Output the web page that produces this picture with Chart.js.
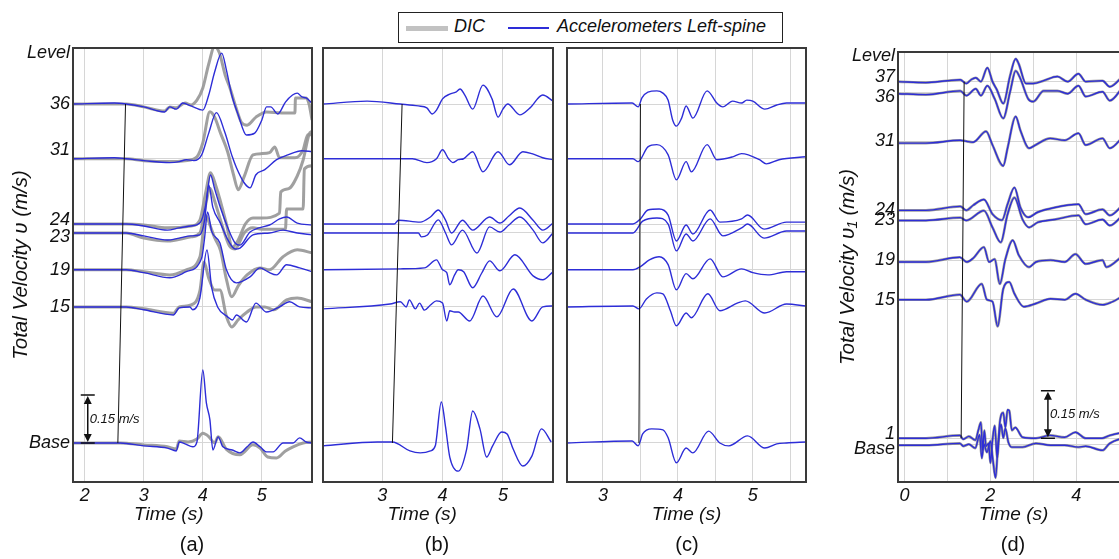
<!DOCTYPE html>
<html>
<head>
<meta charset="utf-8">
<script src="https://cdn.jsdelivr.net/npm/chart.js@4.4.1/dist/chart.umd.min.js"></script>
<style>
  body { margin: 0; width: 1119px; height: 559px; overflow: hidden; background: #fff; position: relative;
         font-family: "Liberation Sans", Arial, sans-serif; }
  canvas { position: absolute; top: 40px; }
  .tag { position: absolute; top: 533px; font-size: 20px; transform: translateX(-50%); color: #111; }
  #legend { position: absolute; left: 398px; top: 12px; width: 383px; height: 29px; border: 1.5px solid #222; background: #fff; }
  #legend span { position: absolute; }
  #legend .txt { top: 3px; font-size: 18px; font-style: italic; color: #111; }
</style>
</head>
<body>
<div id="legend">
  <span style="left:7px;top:13px;width:42px;height:5px;background:#c2c2c2"></span>
  <span class="txt" style="left:55px">DIC</span>
  <span style="left:109px;top:14px;width:41px;height:2px;background:rgb(45,45,215)"></span>
  <span class="txt" style="left:158px">Accelerometers Left-spine</span>
</div>
<canvas id="chartA" width="318" height="519" style="left:0px"></canvas>
<canvas id="chartB" width="245" height="519" style="left:318px"></canvas>
<canvas id="chartC" width="250" height="519" style="left:563px"></canvas>
<canvas id="chartD" width="330" height="519" style="left:815px"></canvas>
<div class="tag" style="left:192px">(a)</div>
<div class="tag" style="left:437px">(b)</div>
<div class="tag" style="left:687px">(c)</div>
<div class="tag" style="left:1013px">(d)</div>

<script>
// ---- floor levels (zero line of each trace, offset in m/s) ----
const levelsABC = { L36: 1.059, L31: 0.888, L24: 0.684, L23: 0.656, L19: 0.541, L15: 0.425, Base: 0 };
const levelTopABC = 1.219;           // where the "Level" heading sits
const tickLabelsA = ['Level', '36', ['31', '', ''], ['24', ''], ['', '23'], '19', '15', 'Base'];

const levelsD = { L37: 1.144, L36: 1.109, L31: 0.956, L24: 0.738, L23: 0.706, L19: 0.581, L15: 0.456, L1: 0.019, Base: 0 };
const levelTopD = 1.225;
const tickLabelsD = ['Level', ['37', ''], ['', '36'], '31', '24', '23', '19', '15', ['1', ''], ['', 'Base']];

// time ticks
const timeTicksA = [2, 3, 4, 5];
const timeTicksB = [3, 4, 5];
const timeTicksC = [3, 3.5, 4, 4.5, 5, 5.5];
const timeLabelsC = [3, 4, 5];
const timeTicksD = [0, 1, 2, 3, 4, 5];
const timeLabelsD = [0, 2, 4];

// wave-front marker: time at top floor, time at base
const frontA = [2.69, 2.56];
const frontB = [3.33, 3.17];
const frontC = [3.50, 3.48];
const frontD = [1.39, 1.32];

// ---- panel (a): [time s, velocity change m/s] ----
const a36Acc = [[1.8,0],[2.5,0.003],[2.7,0],[3.0,-0.009],[3.35,-0.025],[3.44,-0.009],[3.55,-0.016],[3.66,0.003],[3.8,-0.006],[4.0,-0.019],[4.1,0.028],[4.2,0.1],[4.32,0.159],[4.4,0.106],[4.49,0.028],[4.6,-0.034],[4.74,-0.097],[4.88,-0.091],[5.0,-0.05],[5.08,-0.009],[5.15,-0.009],[5.27,-0.031],[5.4,0.006],[5.52,0.028],[5.6,0.034],[5.68,0.022],[5.75,0.019],[5.85,0.003]];
const a36Dic = [[1.8,0],[2.7,0],[3.0,-0.009],[3.35,-0.022],[3.44,-0.009],[3.55,-0.012],[3.7,0.003],[3.8,-0.003],[3.9,0.012],[4.0,0.05],[4.1,0.125],[4.2,0.18],[4.28,0.16],[4.38,0.09],[4.46,0.05],[4.56,-0.01],[4.66,-0.059],[4.75,-0.066],[4.9,-0.041],[5.08,-0.025],[5.34,-0.028],[5.56,-0.028],[5.57,0.019],[5.75,0.019],[5.8,0],[5.85,-0.05]];
const a31Acc = [[1.8,0],[2.5,0.003],[2.7,0],[3.0,-0.006],[3.44,-0.012],[3.6,-0.009],[3.72,-0.003],[3.85,-0.006],[3.98,0.012],[4.1,0.08],[4.23,0.144],[4.37,0.084],[4.5,0.006],[4.57,-0.028],[4.7,-0.075],[4.8,-0.091],[4.9,-0.05],[5.05,-0.034],[5.25,-0.003],[5.44,0.012],[5.68,0.025],[5.85,0.022]];
const a31Dic = [[1.8,0],[2.7,0],[3.0,-0.006],[3.44,-0.009],[3.7,-0.006],[3.9,0.006],[4.0,0.05],[4.12,0.147],[4.2,0.13],[4.3,0.08],[4.42,0.022],[4.52,-0.05],[4.6,-0.097],[4.7,-0.056],[4.85,0.012],[5.0,0.016],[5.13,0.019],[5.22,0.037],[5.3,0.003],[5.56,0.003],[5.7,0.028],[5.78,0.075],[5.85,0.075]];
const a24Acc = [[1.8,0],[2.7,0],[3.0,-0.006],[3.4,-0.019],[3.6,-0.012],[3.8,-0.006],[3.95,0.003],[4.05,0.06],[4.13,0.153],[4.2,0.11],[4.3,0.05],[4.42,-0.01],[4.55,-0.06],[4.63,-0.066],[4.8,-0.025],[4.95,-0.012],[5.13,-0.003],[5.3,0.016],[5.42,0.022],[5.6,0.003],[5.85,-0.003]];
const a24Dic = [[1.8,0],[2.7,0],[3.0,-0.003],[3.4,-0.012],[3.8,-0.006],[3.95,0.012],[4.05,0.1],[4.13,0.16],[4.22,0.12],[4.3,0.07],[4.4,0],[4.5,-0.072],[4.6,-0.05],[4.72,0],[4.85,0.019],[5.0,0.019],[5.3,0.034],[5.32,0.1],[5.45,0.11],[5.6,0.15],[5.7,0.2],[5.8,0.28],[5.85,0.29]];
const a23Acc = [[1.8,0],[2.7,0],[3.0,-0.009],[3.4,-0.022],[3.6,-0.016],[3.8,-0.009],[3.95,-0.006],[4.03,0.04],[4.1,0.15],[4.17,0.08],[4.3,0.03],[4.42,-0.02],[4.55,-0.05],[4.63,-0.047],[4.85,-0.006],[5.13,0],[5.36,0.009],[5.6,0],[5.85,-0.006]];
const a23Dic = [[1.8,0],[2.7,0],[3.0,-0.016],[3.4,-0.025],[3.8,-0.012],[3.95,0],[4.05,0.09],[4.12,0.14],[4.2,0.1],[4.3,0.04],[4.45,-0.04],[4.55,-0.05],[4.7,0],[4.85,0.016],[5.0,0.012],[5.4,0.012],[5.42,0.075],[5.7,0.075],[5.72,0.2],[5.85,0.21]];
const a19Acc = [[1.8,0],[2.7,0],[3.0,-0.009],[3.44,-0.025],[3.72,-0.006],[3.98,0.037],[4.03,0.1],[4.08,0.181],[4.15,0.12],[4.29,0.084],[4.4,0],[4.57,-0.041],[4.8,-0.022],[4.97,0.006],[5.1,-0.006],[5.25,-0.016],[5.42,0.016],[5.64,0.006],[5.85,-0.006]];
const a19Dic = [[1.8,0],[2.7,0],[3.0,-0.006],[3.44,-0.016],[3.72,0],[3.95,0.04],[4.05,0.17],[4.12,0.14],[4.2,0.1],[4.3,0.06],[4.4,-0.03],[4.49,-0.084],[4.6,-0.05],[4.75,-0.016],[4.97,0.006],[5.13,0],[5.36,0.041],[5.6,0.0625],[5.85,0.053]];
const a15Acc = [[1.8,0],[2.7,0],[3.0,-0.009],[3.5,-0.025],[3.6,-0.003],[3.78,0],[3.83,-0.009],[3.95,0.028],[4.07,0.178],[4.15,0.06],[4.25,0],[4.42,-0.031],[4.5,-0.041],[4.57,-0.025],[4.74,-0.047],[4.9,0.012],[5.08,-0.016],[5.3,0],[5.47,0.016],[5.64,0],[5.85,-0.003]];
const a15Dic = [[1.8,0],[2.7,0],[3.0,-0.006],[3.5,-0.02],[3.6,0],[3.8,0.006],[3.95,0.05],[4.02,0.14],[4.1,0.09],[4.2,0.053],[4.29,0.053],[4.4,-0.03],[4.49,-0.0625],[4.6,-0.04],[4.75,-0.016],[4.9,0],[5.05,0],[5.2,-0.009],[5.42,0.022],[5.6,0.028],[5.85,0.016]];
const aBaseAcc = [[1.8,0],[2.6,0],[3.0,-0.009],[3.4,-0.016],[3.55,-0.025],[3.6,0.003],[3.7,-0.003],[3.83,-0.012],[3.9,0.003],[4.0,0.228],[4.06,0.125],[4.12,0.072],[4.17,-0.022],[4.26,0.019],[4.34,-0.012],[4.5,-0.022],[4.63,-0.031],[4.75,-0.012],[4.85,0.003],[4.97,-0.012],[5.08,-0.028],[5.19,-0.028],[5.36,0],[5.53,0],[5.64,0.016],[5.75,0.003],[5.85,0]];
const aBaseDic = [[1.8,0],[2.6,0],[3.0,-0.006],[3.4,-0.012],[3.55,-0.019],[3.6,0.006],[3.75,0.003],[3.9,0.012],[4.0,0.03],[4.1,0.02],[4.2,0],[4.26,0.019],[4.4,-0.02],[4.63,-0.037],[4.85,-0.006],[4.97,-0.016],[5.1,-0.044],[5.25,-0.047],[5.4,-0.025],[5.53,-0.012],[5.7,0],[5.85,0.003]];

// ---- panel (b) ----
const b36Acc = [[2.02,0],[2.75,0.009],[3.3,0],[3.6,-0.006],[3.74,-0.012],[3.83,-0.031],[3.9,-0.019],[4.0,0.016],[4.12,0.031],[4.22,0.037],[4.29,0.047],[4.37,0.028],[4.5,-0.016],[4.67,0.059],[4.82,0.016],[4.92,-0.041],[5.0,-0.016],[5.08,0],[5.28,-0.034],[5.45,-0.012],[5.66,0.028],[5.83,0.009]];
const b31Acc = [[2.02,0],[3.5,0],[3.74,-0.012],[3.9,0],[4.0,0.028],[4.1,0],[4.17,-0.012],[4.26,-0.003],[4.35,0],[4.5,0.022],[4.67,-0.041],[4.92,0.022],[5.11,-0.019],[5.33,0.022],[5.48,0.016],[5.66,0.003],[5.83,-0.003]];
const b24Acc = [[2.02,0],[3.2,0],[3.27,0.012],[3.63,0.006],[3.8,0.022],[3.93,0.044],[4.05,0.012],[4.15,-0.028],[4.33,0.012],[4.5,-0.019],[4.78,0.022],[4.95,0.003],[5.1,0.025],[5.28,0.05],[5.5,0.012],[5.66,-0.019],[5.83,0.003]];
const b23Acc = [[2.02,0],[3.6,0],[3.65,-0.012],[3.75,-0.006],[3.93,0.041],[4.05,0],[4.15,-0.037],[4.33,0.009],[4.57,-0.0625],[4.78,0.019],[4.95,0.003],[5.1,0.025],[5.28,0.05],[5.5,0.009],[5.66,-0.031],[5.83,0]];
const b19Acc = [[2.02,0],[3.3,0.003],[3.7,0.006],[3.9,0.031],[4.0,0],[4.07,-0.009],[4.12,-0.047],[4.2,-0.016],[4.26,0],[4.35,-0.006],[4.5,-0.056],[4.65,-0.01],[4.78,0.028],[4.95,-0.003],[5.2,0.047],[5.5,-0.019],[5.66,-0.031],[5.83,-0.006]];
const b15Acc = [[2.02,-0.006],[3.13,0.009],[3.3,0.016],[3.4,0],[3.45,0.022],[3.55,-0.006],[3.62,0.012],[3.7,-0.01],[3.8,0.006],[3.9,0.019],[4.0,0.012],[4.07,-0.044],[4.12,-0.012],[4.2,-0.016],[4.26,-0.016],[4.45,-0.044],[4.67,0.034],[4.9,-0.031],[5.17,0.056],[5.48,-0.044],[5.66,0],[5.83,0.003]];
const bBaseAcc = [[2.02,-0.009],[2.92,0.003],[3.17,0.003],[3.46,-0.025],[3.63,-0.031],[3.8,-0.025],[3.88,-0.009],[3.98,0.128],[4.05,0.05],[4.12,-0.044],[4.26,-0.088],[4.4,-0.019],[4.5,0.1],[4.62,0.044],[4.73,-0.044],[4.83,-0.009],[4.98,0.034],[5.07,0.028],[5.17,-0.019],[5.33,-0.072],[5.48,-0.041],[5.64,0.044],[5.8,0.003]];

// ---- panel (c) ----
const c36Acc = [[2.52,0],[3.39,0.003],[3.47,-0.009],[3.52,0.019],[3.6,0.037],[3.72,0.041],[3.8,0.034],[3.87,0.012],[3.93,-0.05],[3.98,-0.069],[4.05,-0.044],[4.11,-0.006],[4.2,-0.044],[4.39,0.041],[4.52,0.003],[4.6,-0.009],[4.73,0.009],[4.85,0.003],[4.92,0.012],[5.0,0.009],[5.16,-0.016],[5.32,-0.003],[5.45,0.003],[5.71,0.003]];
const c31Acc = [[2.52,0],[3.4,0],[3.47,-0.009],[3.6,0.037],[3.72,0.044],[3.87,0.012],[3.98,-0.066],[4.11,-0.009],[4.18,-0.041],[4.39,0.044],[4.52,-0.003],[4.73,0.006],[4.85,0.016],[5.09,-0.003],[5.18,-0.016],[5.35,-0.003],[5.71,0.006]];
const c24Acc = [[2.52,0],[3.4,0],[3.5,0.016],[3.6,0.044],[3.75,0.047],[3.87,0.028],[3.98,-0.053],[4.11,-0.003],[4.2,-0.031],[4.43,0.044],[4.56,0.006],[4.85,0.016],[4.93,0.028],[5.15,-0.016],[5.45,0.006],[5.71,0.006]];
const c23Acc = [[2.52,0],[3.4,0],[3.53,0.037],[3.72,0.047],[3.87,0.028],[3.98,-0.056],[4.11,-0.003],[4.2,-0.025],[4.43,0.044],[4.6,-0.009],[4.85,0.016],[4.93,0.028],[5.15,-0.016],[5.45,0.006],[5.71,0.006]];
const c19Acc = [[2.52,0],[3.4,0],[3.5,0.01],[3.62,0.031],[3.75,0.041],[3.87,0.016],[3.98,-0.0625],[4.11,-0.012],[4.2,-0.028],[4.43,0.034],[4.6,-0.022],[4.85,0.003],[5.0,-0.009],[5.2,-0.016],[5.45,-0.006],[5.71,-0.006]];
const c15Acc = [[2.52,0],[3.4,0.003],[3.48,-0.006],[3.58,0.025],[3.72,0.044],[3.8,0.041],[3.9,-0.012],[3.98,-0.059],[4.11,-0.019],[4.18,-0.034],[4.4,0.041],[4.56,-0.012],[4.8,0.0125],[4.9,0.019],[5.16,-0.019],[5.45,0.009],[5.71,0.003]];
const cBaseAcc = [[2.52,0],[3.39,0.006],[3.47,-0.009],[3.53,0.028],[3.65,0.044],[3.8,0.041],[3.87,0.016],[3.98,-0.062],[4.11,-0.016],[4.2,-0.031],[4.41,0.037],[4.56,0],[4.68,-0.009],[4.93,0.022],[5.16,-0.016],[5.32,-0.003],[5.45,0],[5.71,0.003]];

// ---- panel (d): DIC and accelerometers overlap almost exactly here ----
const d37 = [[-0.15,0],[0.5,-0.003],[1.0,0.003],[1.3,0.006],[1.44,-0.006],[1.55,0.006],[1.66,0.0125],[1.78,0],[1.93,0.044],[2.05,0],[2.15,-0.025],[2.3,-0.069],[2.46,0.019],[2.59,0.072],[2.66,0.056],[2.83,-0.006],[3.0,-0.006],[3.24,0.003],[3.56,0.016],[3.8,0],[4.05,0.025],[4.22,0],[4.61,0.003],[4.78,-0.016],[5.2,0.025],[5.6,0.01]];
const d36 = [[-0.15,-0.003],[0.5,-0.006],[1.3,0.006],[1.44,-0.009],[1.66,0.0125],[1.78,-0.009],[1.93,0.022],[2.1,-0.019],[2.3,-0.081],[2.46,0.003],[2.59,0.069],[2.7,0.044],[2.88,-0.019],[3.0,-0.028],[3.24,0.006],[3.56,0.006],[3.8,-0.003],[4.05,0.022],[4.22,-0.012],[4.61,0.003],[4.78,-0.025],[5.2,0.028],[5.6,0.01]];
const d31 = [[-0.15,-0.006],[0.5,-0.006],[1.3,0.003],[1.44,0],[1.6,-0.003],[1.9,0.031],[2.05,-0.012],[2.3,-0.078],[2.4,-0.022],[2.59,0.078],[2.7,0.034],[2.9,-0.022],[3.05,-0.012],[3.39,0.009],[3.73,0.003],[4.05,0.025],[4.22,-0.012],[4.61,0.009],[4.78,-0.022],[5.2,0.022],[5.6,0.01]];
const d24 = [[-0.15,0],[0.5,0],[1.3,0.0125],[1.44,0],[1.6,0.016],[1.85,0.034],[2.05,-0.012],[2.27,-0.031],[2.4,0.019],[2.56,0.072],[2.7,0.009],[2.88,-0.022],[3.1,-0.006],[3.5,0.009],[4.05,0.019],[4.22,-0.012],[4.61,0.003],[4.78,-0.016],[5.2,0.025],[5.6,0.01]];
const d23 = [[-0.15,0],[0.5,0],[1.3,0.009],[1.44,0],[1.85,0.031],[2.05,-0.022],[2.24,-0.069],[2.4,0.019],[2.56,0.072],[2.75,0.003],[2.9,-0.022],[3.1,-0.006],[3.5,0.003],[4.05,0.016],[4.22,-0.012],[4.61,0.003],[4.78,-0.016],[5.2,0.025],[5.6,0.01]];
const d19 = [[-0.15,-0.006],[0.5,-0.006],[1.29,0.009],[1.45,-0.006],[1.6,0.006],[1.85,0.041],[1.97,-0.006],[2.1,0.003],[2.22,-0.075],[2.35,0.003],[2.52,0.0625],[2.66,0.016],[2.9,-0.022],[3.06,-0.006],[3.4,0],[3.73,-0.006],[3.98,0.019],[4.22,-0.012],[4.61,0],[4.7,-0.022],[5.2,0.019],[5.6,0.01]];
const d15 = [[-0.15,0],[0.5,0],[1.29,0.016],[1.45,-0.006],[1.8,0.05],[1.92,0],[2.05,-0.006],[2.17,-0.084],[2.3,0.034],[2.44,0.056],[2.56,0.019],[2.78,-0.022],[3.06,-0.012],[3.4,0.003],[3.73,0],[3.98,0.019],[4.22,0],[4.61,-0.016],[4.85,-0.006],[5.2,0.016],[5.6,0.01]];
const d1 = [[-0.15,0],[0.5,0],[1.29,0.009],[1.37,-0.003],[1.5,0.006],[1.65,-0.006],[1.72,0.025],[1.78,0.05],[1.82,-0.037],[1.86,0.025],[1.9,-0.025],[1.96,-0.016],[2.0,-0.078],[2.05,-0.006],[2.1,0.04],[2.16,-0.06],[2.22,0.05],[2.3,0.081],[2.35,0.034],[2.4,0.09],[2.44,0.087],[2.5,0.025],[2.58,0.034],[2.75,0.003],[3.06,0],[3.39,0.009],[3.73,0.003],[3.98,0.019],[4.22,0],[4.6,0],[4.78,0.009],[5.2,0.019],[5.6,0.01]];
const dBase = [[-0.15,-0.003],[0.5,-0.003],[1.29,0.003],[1.37,-0.006],[1.5,0],[1.65,-0.012],[1.75,0.03],[1.8,-0.044],[1.85,0],[1.92,-0.025],[2.0,0.01],[2.06,-0.05],[2.12,-0.106],[2.18,0],[2.25,0.0625],[2.3,0.02],[2.35,0.05],[2.42,0.006],[2.5,-0.009],[2.75,-0.009],[3.06,0.003],[3.4,-0.003],[3.73,-0.003],[4.05,-0.009],[4.22,-0.006],[4.61,-0.019],[4.78,0.003],[5.2,0.019],[5.6,0.01]];

const scaleBarSize = 0.15; // m/s

// ---- styling ----
const FONT = '"Liberation Sans", Arial, sans-serif';
const BLUE = 'rgb(45,45,215)';
const GRAY = 'rgba(150,150,150,0.9)';
const GRAY_D = 'rgba(125,125,125,0.75)';
const GRID = '#d6d6d6';

function trace(level, pts, kind) {
  const isDic = kind !== 'acc';
  return {
    data: pts.map(p => ({ x: p[0], y: level + p[1] })),
    borderColor: kind === 'acc' ? BLUE : (kind === 'dicD' ? GRAY_D : GRAY),
    borderWidth: kind === 'acc' ? 1.4 : (kind === 'dicD' ? 2.6 : 3),
    order: isDic ? 2 : 1,
    pointRadius: 0,
    cubicInterpolationMode: 'monotone',
    fill: false
  };
}

function frontLine(times, top, bottom) {
  return {
    data: [{ x: times[0], y: top }, { x: times[1], y: bottom }],
    borderColor: '#111', borderWidth: 1, order: 0, pointRadius: 0, fill: false
  };
}

const framePlugin = {
  id: 'frame',
  afterDraw(chart) {
    const { ctx, chartArea: a } = chart;
    ctx.save();
    ctx.strokeStyle = '#3a3a3a';
    ctx.lineWidth = 2;
    ctx.strokeRect(a.left, a.top, a.right - a.left, a.bottom - a.top);
    ctx.restore();
  }
};

function scaleBarPlugin(t, from) {
  return {
    id: 'scaleBar',
    afterDatasetsDraw(chart) {
      const { ctx, scales: { x, y } } = chart;
      const px = x.getPixelForValue(t);
      const y0 = y.getPixelForValue(from);
      const y1 = y.getPixelForValue(from + scaleBarSize);
      ctx.save();
      ctx.strokeStyle = '#111';
      ctx.fillStyle = '#111';
      ctx.lineWidth = 1.5;
      ctx.beginPath();
      ctx.moveTo(px - 7, y0); ctx.lineTo(px + 7, y0);
      ctx.moveTo(px - 7, y1); ctx.lineTo(px + 7, y1);
      ctx.moveTo(px, y0 - 6); ctx.lineTo(px, y1 + 6);
      ctx.stroke();
      ctx.beginPath();
      ctx.moveTo(px, y1 + 1); ctx.lineTo(px - 4, y1 + 9); ctx.lineTo(px + 4, y1 + 9); ctx.closePath();
      ctx.moveTo(px, y0 - 1); ctx.lineTo(px - 4, y0 - 9); ctx.lineTo(px + 4, y0 - 9); ctx.closePath();
      ctx.fill();
      ctx.font = 'italic 13px ' + FONT;
      ctx.textBaseline = 'middle';
      ctx.fillText(scaleBarSize + ' m/s', px + 2, (y0 + y1) / 2);
      ctx.restore();
    }
  };
}

function xScale(min, max, gridTicks, shown, title) {
  return {
    type: 'linear', min, max,
    afterBuildTicks: s => { s.ticks = gridTicks.map(v => ({ value: v })); },
    afterFit: s => { s.height = 77; },
    ticks: {
      font: { family: FONT, size: 18, style: 'italic' }, color: '#111', padding: 3,
      maxRotation: 0, autoSkip: false,
      callback: v => shown.includes(v) ? String(v) : ''
    },
    grid: { color: GRID, drawTicks: false },
    border: { display: false },
    title: { display: true, text: title, color: '#111',
             font: { family: FONT, size: 19, style: 'italic' }, padding: { top: 0, bottom: 33 } }
  };
}

function yScale(min, max, values, labels, title, width, titlePad) {
  return {
    type: 'linear', min, max,
    afterBuildTicks: s => { s.ticks = values.map(v => ({ value: v })); },
    afterFit: s => { s.width = width; },
    ticks: {
      display: !!labels,
      font: { family: FONT, size: 18, style: 'italic', lineHeight: 0.5 }, color: '#111',
      padding: 3, autoSkip: false,
      callback: (v, i) => labels ? labels[i] : ''
    },
    grid: {
      drawTicks: false,
      color: c => (labels && labels[c.index] === 'Level') ? 'rgba(0,0,0,0)' : GRID
    },
    border: { display: false },
    title: { display: !!title, text: title || '', color: '#111',
             font: { family: FONT, size: 20.5, style: 'italic' }, padding: { top: titlePad, bottom: 0 } }
  };
}

function makeChart(id, datasets, scales, padding, extra) {
  return new Chart(document.getElementById(id), {
    type: 'line',
    data: { datasets },
    options: {
      responsive: false, animation: false, devicePixelRatio: 1,
      layout: { padding },
      plugins: { legend: { display: false }, tooltip: { enabled: false } },
      scales
    },
    plugins: [framePlugin].concat(extra || [])
  });
}

const L = levelsABC;
const yMinABC = -0.122, yMaxABC = 1.234;
const valsA = [levelTopABC, L.L36, L.L31, L.L24, L.L23, L.L19, L.L15, L.Base];
const valsBC = [L.L36, L.L31, L.L24, L.L23, L.L19, L.L15, L.Base];

// (a)
makeChart('chartA', [
  trace(L.L36, a36Dic, 'dic'), trace(L.L36, a36Acc, 'acc'),
  trace(L.L31, a31Dic, 'dic'), trace(L.L31, a31Acc, 'acc'),
  trace(L.L24, a24Dic, 'dic'), trace(L.L24, a24Acc, 'acc'),
  trace(L.L23, a23Dic, 'dic'), trace(L.L23, a23Acc, 'acc'),
  trace(L.L19, a19Dic, 'dic'), trace(L.L19, a19Acc, 'acc'),
  trace(L.L15, a15Dic, 'dic'), trace(L.L15, a15Acc, 'acc'),
  trace(L.Base, aBaseDic, 'dic'), trace(L.Base, aBaseAcc, 'acc'),
  frontLine(frontA, L.L36, L.Base)
], {
  x: xScale(1.8, 5.85, timeTicksA, timeTicksA, 'Time (s)         '),
  y: yScale(yMinABC, yMaxABC, valsA, tickLabelsA, 'Total Velocity \u03c5 (m/s)', 73, 9)
}, { top: 8, right: 6, left: 0, bottom: 0 }, [scaleBarPlugin(2.05, L.Base)]);

// (b)
makeChart('chartB', [
  trace(L.L36, b36Acc, 'acc'), trace(L.L31, b31Acc, 'acc'),
  trace(L.L24, b24Acc, 'acc'), trace(L.L23, b23Acc, 'acc'),
  trace(L.L19, b19Acc, 'acc'), trace(L.L15, b15Acc, 'acc'),
  trace(L.Base, bBaseAcc, 'acc'),
  frontLine(frontB, L.L36, L.Base)
], {
  x: xScale(2.02, 5.83, timeTicksB, timeTicksB, 'Time (s)      '),
  y: yScale(yMinABC, yMaxABC, valsBC, null, null, 0, 0)
}, { top: 8, right: 10, left: 5, bottom: 0 });

// (c)
makeChart('chartC', [
  trace(L.L36, c36Acc, 'acc'), trace(L.L31, c31Acc, 'acc'),
  trace(L.L24, c24Acc, 'acc'), trace(L.L23, c23Acc, 'acc'),
  trace(L.L19, c19Acc, 'acc'), trace(L.L15, c15Acc, 'acc'),
  trace(L.Base, cBaseAcc, 'acc'),
  frontLine(frontC, L.L36, L.Base)
], {
  x: xScale(2.52, 5.71, timeTicksC, timeLabelsC, 'Time (s)'),
  y: yScale(yMinABC, yMaxABC, valsBC, null, null, 0, 0)
}, { top: 8, right: 7, left: 4, bottom: 0 });

// (d)
const D = levelsD;
const dPairs = [[D.L37, d37], [D.L36, d36], [D.L31, d31], [D.L24, d24], [D.L23, d23],
                [D.L19, d19], [D.L15, d15], [D.L1, d1], [D.Base, dBase]];
const dSets = [];
dPairs.forEach(([lv, pts]) => { dSets.push(trace(lv, pts, 'dicD'), trace(lv, pts, 'acc')); });
dSets.push(frontLine(frontD, D.L37, D.L1));
makeChart('chartD', dSets, {
  x: xScale(-0.15, 5.6, timeTicksD, timeLabelsD, 'Time (s)   '),
  y: yScale(-0.119, 1.2375,
    [levelTopD, D.L37, D.L36, D.L31, D.L24, D.L23, D.L19, D.L15, D.L1, D.Base],
    tickLabelsD, 'Total Velocity \u03c5\u2081 (m/s)', 83, 21)
}, { top: 8, right: 0, left: 0, bottom: 0 }, [scaleBarPlugin(3.34, D.L1)]);
</script>
</body>
</html>
